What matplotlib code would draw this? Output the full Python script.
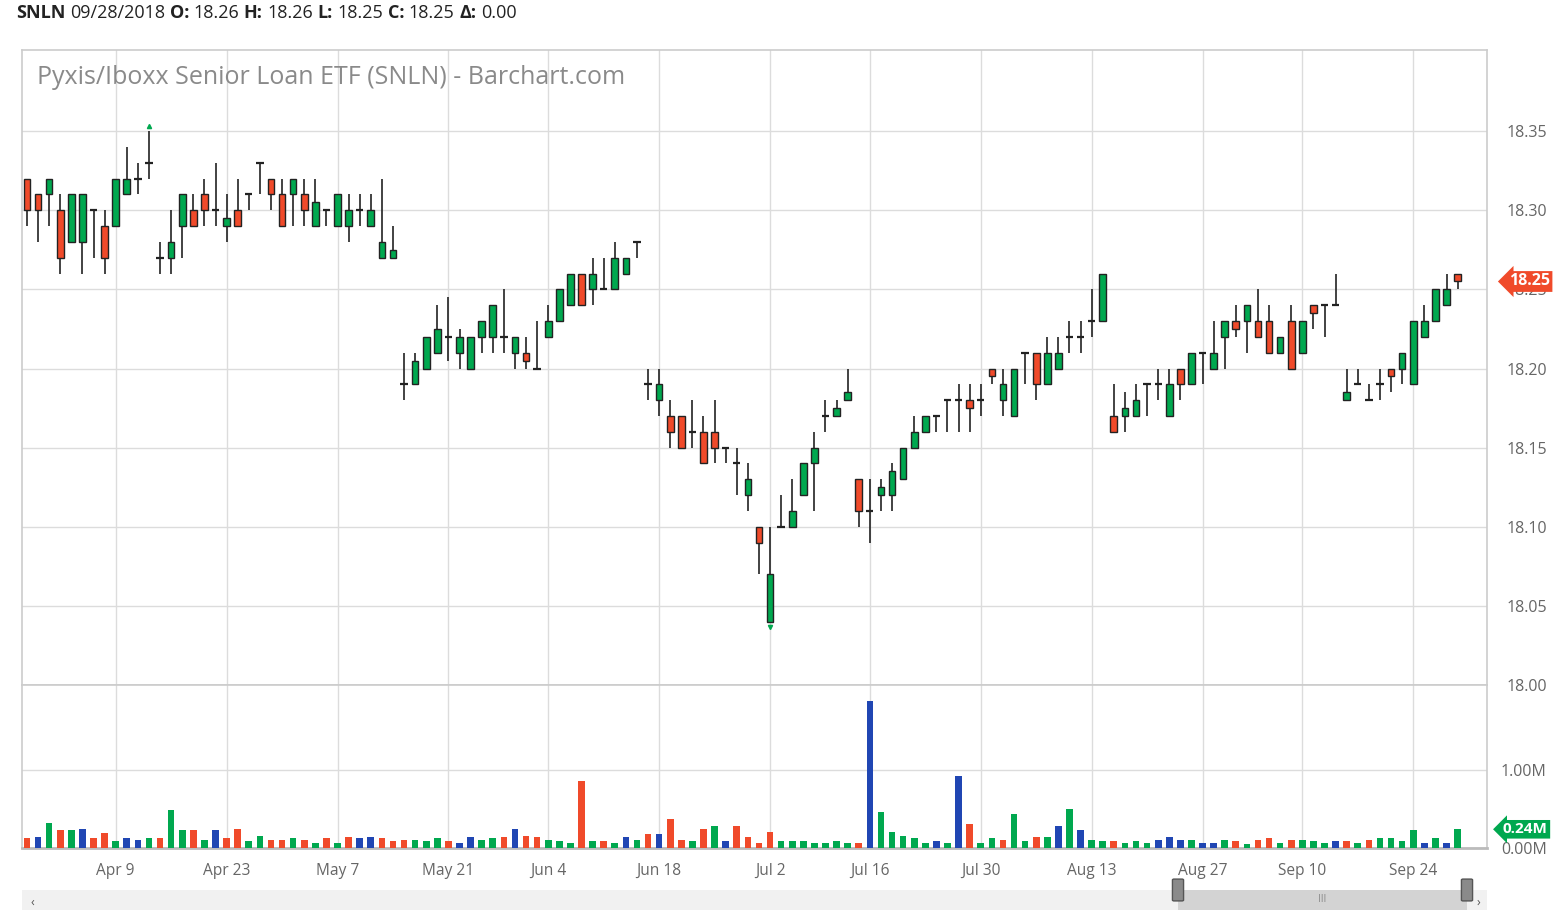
import numpy as np
import pandas as pd
import matplotlib
matplotlib.use('Agg')
import matplotlib.pyplot as plt
import matplotlib.transforms as mtransforms
from matplotlib.patches import Rectangle, FancyBboxPatch

plt.rcParams['font.family'] = ['Open Sans', 'DejaVu Sans']

# trading days Mar 27 - Sep 28 2018 (market holidays removed)
holidays = ['2018-03-30', '2018-05-28', '2018-07-04', '2018-09-03']
dates = pd.bdate_range('2018-03-27', '2018-09-28')
dates = dates[~dates.isin(pd.to_datetime(holidays))]

opens = [18.32, 18.31, 18.31, 18.30, 18.28, 18.28, 18.30, 18.29, 18.29, 18.31,
         18.32, 18.33, 18.27, 18.27, 18.29, 18.30, 18.31, 18.30, 18.29, 18.30,
         18.31, 18.33, 18.32, 18.31, 18.31, 18.31, 18.29, 18.30, 18.29, 18.29,
         18.30, 18.29, 18.27, 18.27, 18.19, 18.19, 18.20, 18.21, 18.22, 18.21,
         18.20, 18.22, 18.22, 18.22, 18.21, 18.21, 18.20, 18.22, 18.23, 18.24,
         18.26, 18.25, 18.25, 18.25, 18.26, 18.28, 18.19, 18.18, 18.17, 18.17,
         18.16, 18.16, 18.16, 18.15, 18.14, 18.12, 18.10, 18.04, 18.10, 18.10,
         18.12, 18.14, 18.17, 18.17, 18.18, 18.13, 18.11, 18.12, 18.12, 18.13,
         18.15, 18.16, 18.17, 18.18, 18.18, 18.18, 18.18, 18.20, 18.18, 18.17,
         18.21, 18.21, 18.19, 18.20, 18.22, 18.22, 18.23, 18.23, 18.17, 18.17,
         18.17, 18.19, 18.19, 18.17, 18.20, 18.19, 18.21, 18.20, 18.22, 18.23,
         18.23, 18.23, 18.23, 18.21, 18.23, 18.21, 18.24, 18.24, 18.24, 18.18,
         18.19, 18.18, 18.19, 18.20, 18.20, 18.19, 18.22, 18.23, 18.24, 18.26]
highs = [18.32, 18.31, 18.32, 18.31, 18.31, 18.31, 18.30, 18.30, 18.32, 18.34,
         18.33, 18.35, 18.28, 18.30, 18.31, 18.31, 18.32, 18.33, 18.31, 18.32,
         18.31, 18.33, 18.32, 18.32, 18.32, 18.32, 18.32, 18.30, 18.31, 18.31,
         18.31, 18.31, 18.32, 18.29, 18.21, 18.21, 18.22, 18.24, 18.245, 18.225,
         18.22, 18.23, 18.24, 18.25, 18.22, 18.22, 18.23, 18.24, 18.25, 18.26,
         18.26, 18.27, 18.27, 18.28, 18.27, 18.28, 18.20, 18.20, 18.18, 18.17,
         18.18, 18.17, 18.18, 18.15, 18.15, 18.14, 18.10, 18.10, 18.12, 18.13,
         18.14, 18.16, 18.18, 18.18, 18.20, 18.13, 18.13, 18.13, 18.14, 18.15,
         18.17, 18.17, 18.17, 18.18, 18.19, 18.19, 18.19, 18.20, 18.20, 18.20,
         18.21, 18.21, 18.22, 18.22, 18.23, 18.23, 18.25, 18.26, 18.19, 18.185,
         18.19, 18.19, 18.20, 18.20, 18.20, 18.21, 18.21, 18.23, 18.23, 18.24,
         18.24, 18.25, 18.24, 18.22, 18.24, 18.23, 18.24, 18.24, 18.26, 18.20,
         18.20, 18.19, 18.20, 18.20, 18.21, 18.23, 18.24, 18.25, 18.26, 18.26]
lows = [18.29, 18.28, 18.29, 18.26, 18.28, 18.26, 18.27, 18.26, 18.29, 18.31,
        18.31, 18.32, 18.26, 18.26, 18.27, 18.29, 18.29, 18.29, 18.28, 18.29,
        18.30, 18.31, 18.30, 18.29, 18.29, 18.29, 18.29, 18.29, 18.29, 18.28,
        18.29, 18.29, 18.27, 18.27, 18.18, 18.19, 18.20, 18.21, 18.205, 18.20,
        18.20, 18.21, 18.21, 18.21, 18.20, 18.20, 18.20, 18.22, 18.23, 18.24,
        18.24, 18.24, 18.25, 18.25, 18.26, 18.27, 18.18, 18.17, 18.15, 18.15,
        18.15, 18.14, 18.14, 18.14, 18.12, 18.11, 18.07, 18.04, 18.10, 18.10,
        18.12, 18.11, 18.16, 18.17, 18.18, 18.10, 18.09, 18.11, 18.11, 18.13,
        18.15, 18.16, 18.16, 18.16, 18.16, 18.16, 18.17, 18.19, 18.17, 18.17,
        18.19, 18.18, 18.19, 18.20, 18.21, 18.21, 18.22, 18.23, 18.16, 18.16,
        18.17, 18.17, 18.18, 18.17, 18.18, 18.19, 18.19, 18.20, 18.20, 18.22,
        18.21, 18.22, 18.21, 18.21, 18.20, 18.21, 18.225, 18.22, 18.24, 18.18,
        18.19, 18.18, 18.18, 18.185, 18.19, 18.19, 18.22, 18.23, 18.24, 18.25]
closes = [18.30, 18.30, 18.32, 18.27, 18.31, 18.31, 18.30, 18.27, 18.32, 18.32,
          18.32, 18.33, 18.27, 18.28, 18.31, 18.29, 18.30, 18.30, 18.295, 18.29,
          18.31, 18.33, 18.31, 18.29, 18.32, 18.30, 18.305, 18.30, 18.31, 18.30,
          18.30, 18.30, 18.28, 18.275, 18.19, 18.205, 18.22, 18.225, 18.22, 18.22,
          18.22, 18.23, 18.24, 18.22, 18.22, 18.205, 18.20, 18.23, 18.25, 18.26,
          18.24, 18.26, 18.25, 18.27, 18.27, 18.28, 18.19, 18.19, 18.16, 18.15,
          18.16, 18.14, 18.15, 18.15, 18.14, 18.13, 18.09, 18.07, 18.10, 18.11,
          18.14, 18.15, 18.17, 18.175, 18.185, 18.11, 18.11, 18.125, 18.135, 18.15,
          18.16, 18.17, 18.17, 18.18, 18.18, 18.175, 18.18, 18.195, 18.19, 18.20,
          18.21, 18.19, 18.21, 18.21, 18.22, 18.22, 18.23, 18.26, 18.16, 18.175,
          18.18, 18.19, 18.19, 18.19, 18.19, 18.21, 18.21, 18.21, 18.23, 18.225,
          18.24, 18.22, 18.21, 18.22, 18.20, 18.23, 18.235, 18.24, 18.24, 18.185,
          18.19, 18.18, 18.19, 18.195, 18.21, 18.23, 18.23, 18.25, 18.25, 18.255]
volume_m = [0.125, 0.147, 0.319, 0.233, 0.233, 0.25, 0.125, 0.198, 0.086, 0.125,
            0.108, 0.125, 0.125, 0.483, 0.233, 0.233, 0.108, 0.233, 0.125, 0.25,
            0.086, 0.16, 0.108, 0.108, 0.125, 0.108, 0.069, 0.125, 0.069, 0.147,
            0.125, 0.147, 0.125, 0.086, 0.108, 0.108, 0.086, 0.125, 0.086, 0.069,
            0.147, 0.108, 0.125, 0.147, 0.25, 0.16, 0.147, 0.108, 0.086, 0.069,
            0.858, 0.086, 0.086, 0.069, 0.147, 0.108, 0.177, 0.177, 0.375, 0.108,
            0.086, 0.25, 0.284, 0.086, 0.284, 0.142, 0.069, 0.211, 0.086, 0.086,
            0.086, 0.069, 0.069, 0.086, 0.069, 0.069, 1.89, 0.461, 0.211, 0.16,
            0.125, 0.069, 0.086, 0.069, 0.922, 0.302, 0.069, 0.125, 0.108, 0.44,
            0.086, 0.147, 0.147, 0.284, 0.496, 0.233, 0.108, 0.086, 0.086, 0.069,
            0.086, 0.069, 0.108, 0.147, 0.108, 0.108, 0.069, 0.069, 0.108, 0.086,
            0.052, 0.108, 0.125, 0.069, 0.108, 0.108, 0.086, 0.069, 0.086, 0.086,
            0.069, 0.108, 0.125, 0.125, 0.086, 0.233, 0.069, 0.125, 0.069, 0.24]

tick_dates = ['2018-04-09', '2018-04-23', '2018-05-07', '2018-05-21', '2018-06-04',
              '2018-06-18', '2018-07-02', '2018-07-16', '2018-07-30', '2018-08-13',
              '2018-08-27', '2018-09-10', '2018-09-24']
price_ticks = [18.00, 18.05, 18.10, 18.15, 18.20, 18.25, 18.30, 18.35]
vol_ticks = [0.0, 1.0]

GREEN = '#00a84f'
RED = '#f04a2a'
BLUE = '#2046b3'
GRID = '#dcdcdc'
TXT = '#666666'

W, H = 1565, 910
fig = plt.figure(figsize=(W / 100, H / 100), dpi=100)


def px(l, t, r, b):
    return [l / W, 1 - b / H, (r - l) / W, (b - t) / H]


ax = fig.add_axes(px(22, 50, 1487, 685))
axv = fig.add_axes(px(22, 685, 1487, 848), sharex=ax)

n = len(dates)
x = np.arange(n)

# candles
for i in range(n):
    o, h, l, c = opens[i], highs[i], lows[i], closes[i]
    ax.vlines(i, l, h, color='#222222', lw=1.2, zorder=3)
    if abs(c - o) < 1e-9:
        ax.hlines(o, i - 0.33, i + 0.33, color='#222222', lw=1.6, zorder=4)
    else:
        col = GREEN if c > o else RED
        ax.add_patch(Rectangle((i - 0.3, min(o, c)), 0.6, abs(c - o),
                               fc=col, ec='#222222', lw=1, zorder=4))

# period high / low markers
ih = int(np.argmax(highs))
il = int(np.argmin(lows))
ax.plot(ih, highs[ih] + 0.0035, marker='^', ms=3, color=GREEN, zorder=5)
ax.plot(il, lows[il] - 0.0035, marker='v', ms=3, color=GREEN, zorder=5)

# volume colours: vs previous close
vcol = []
for i in range(n):
    if i == 0:
        d = closes[0] - opens[0]
    else:
        d = round(closes[i] - closes[i - 1], 4)
    vcol.append(GREEN if d > 0 else (RED if d < 0 else BLUE))
axv.bar(x, volume_m, width=0.6, color=vcol, zorder=3)

tick_pos = [int(np.where(dates == pd.Timestamp(d))[0][0]) for d in tick_dates]
tick_lab = [f"{pd.Timestamp(d):%b} {pd.Timestamp(d).day}" for d in tick_dates]

ax.set_xlim(-0.45, 131.65)
ax.set_ylim(18.0, 18.4013)
axv.set_ylim(0, 2.09)

for a in (ax, axv):
    a.set_xticks(tick_pos)
    a.grid(True, color=GRID, lw=1, zorder=0)
    a.set_axisbelow(True)
    a.yaxis.tick_right()
    a.tick_params(axis='y', length=0, labelsize=11.5, labelcolor=TXT)
    for s in a.spines.values():
        s.set_color('#cccccc')
        s.set_linewidth(1.2)

ax.set_yticks(price_ticks)
ax.set_yticklabels([f'{p:.2f}' for p in price_ticks])
ax.tick_params(axis='x', length=0, labelbottom=False)
ax.tick_params(axis='y', pad=14.4)

axv.set_yticks(vol_ticks)
axv.set_yticklabels([f'{v:.2f}M' for v in vol_ticks])
axv.set_xticklabels(tick_lab)
axv.tick_params(axis='y', pad=10)
axv.tick_params(axis='x', length=0, pad=10.5, labelsize=11.2, labelcolor=TXT)
axv.spines['bottom'].set_color('#bbbbbb')
axv.spines['bottom'].set_linewidth(2)

# last price / volume tags
tr = mtransforms.blended_transform_factory(ax.transAxes, ax.transData)
ax.text(1.0 + 22 / 1465, closes[-1], f'{closes[-1]:.2f}', transform=tr,
        ha='left', va='center', fontsize=11.5, color='white', fontweight='bold',
        bbox=dict(boxstyle='larrow,pad=0.15', fc=RED, ec='none'), zorder=10)
trv = mtransforms.blended_transform_factory(axv.transAxes, axv.transData)
axv.text(1.0 + 16 / 1465, volume_m[-1], f'{volume_m[-1]:.2f}M', transform=trv,
         ha='left', va='center', fontsize=11, color='white', fontweight='bold',
         bbox=dict(boxstyle='larrow,pad=0.15', fc=GREEN, ec='none'), zorder=10)

# chart title inside the plot
fig.text(37 / W, 1 - 77 / H, 'Pyxis/Iboxx Senior Loan ETF (SNLN) - Barchart.com',
         fontsize=18, color='#8a8a8a', va='center', ha='left')

# header line
parts = [('SNLN', 'bold'), ('09/28/2018', 'normal'), ('O:', 'bold'), ('18.26', 'normal'),
         ('H:', 'bold'), ('18.26', 'normal'), ('L:', 'bold'), ('18.25', 'normal'),
         ('C:', 'bold'), ('18.25', 'normal'), ('Δ:', 'bold'), ('0.00', 'normal')]
t = ax.annotate(parts[0][0], xy=(16, H - 22), xycoords='figure pixels',
                fontsize=13, fontweight='bold', color='#222222', va='bottom',
                annotation_clip=False)
for s, w in parts[1:]:
    t = ax.annotate(s, xy=(1, 0), xycoords=t, xytext=(3.3, 0), textcoords='offset points',
                    fontsize=13, fontweight=w, color='#222222', va='bottom',
                    annotation_clip=False)

# scrollbar under the chart
fig.add_artist(Rectangle((22 / W, 0), 1465 / W, 20 / H, transform=fig.transFigure,
                         fc='#f1f1f1', ec='none'))
fig.add_artist(Rectangle((1178 / W, 0), 289 / W, 20 / H, transform=fig.transFigure,
                         fc='#d3d3d3', ec='none'))
for hx in (1178, 1467):
    fig.add_artist(FancyBboxPatch(((hx - 4) / W, 10 / H), 8 / W, 20 / H,
                                  boxstyle='round,pad=0.001', transform=fig.transFigure,
                                  fc='#8a8a8a', ec='#555555', lw=1))
fig.text(32 / W, 1 - 902 / H, '‹', fontsize=9, color='#555555', ha='center', va='center')
fig.text(1478 / W, 1 - 902 / H, '›', fontsize=9, color='#555555', ha='center', va='center')
fig.text(1322 / W, 1 - 900 / H, 'III', fontsize=7, color='#888888', ha='center', va='center')

fig.savefig('out.png', dpi=100)
